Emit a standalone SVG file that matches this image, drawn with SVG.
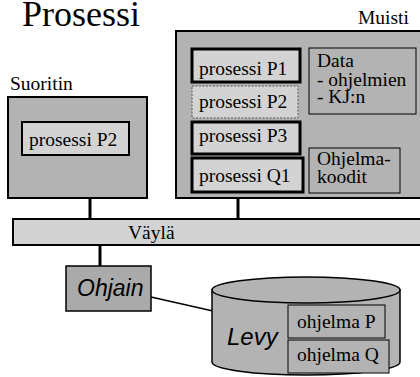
<svg xmlns="http://www.w3.org/2000/svg" width="420" height="377" viewBox="0 0 420 377">
<style>
.serif{font-family:"Liberation Serif","Times New Roman",serif;fill:#000}
.lbl{font-size:19.5px}
.sans{font-family:"Liberation Sans",Arial,sans-serif;font-style:italic;fill:#000}
.outer{fill:#b3b3b3;stroke:#000;stroke-width:2}
.inner{fill:#d3d3d3;stroke:#000;stroke-width:3}
.thin{fill:#b3b3b3;stroke:#000;stroke-width:1}
.conn{stroke:#000;stroke-width:3;fill:none}
</style>
<rect width="420" height="377" fill="#fff"/>
<text class="serif" x="22" y="26" font-size="36">Prosessi</text>
<g id="muisti">
<text class="serif lbl" x="358" y="24">Muisti</text>
<rect class="outer" x="176" y="31" width="250" height="167"/>
</g>
<g id="p1"><rect class="inner" x="192" y="49" width="108" height="33"/><text class="serif lbl" x="199" y="75">prosessi P1</text></g>
<g id="p2m"><rect x="192" y="86" width="106" height="32" fill="#d3d3d3" stroke="#555" stroke-width="1" stroke-dasharray="2,1.5"/><text class="serif lbl" x="199" y="108">prosessi P2</text></g>
<g id="p3"><rect class="inner" x="192" y="122" width="108" height="32"/><text class="serif lbl" x="199" y="142">prosessi P3</text></g>
<g id="q1"><rect class="inner" x="192" y="158" width="111" height="34"/><text class="serif lbl" x="199" y="182">prosessi Q1</text></g>
<g id="data"><rect class="thin" x="309" y="48" width="107" height="66"/>
<text class="serif lbl" x="317" y="67">Data</text><text class="serif lbl" x="317" y="86">- ohjelmien</text><text class="serif lbl" x="317" y="103">- KJ:n</text></g>
<g id="koodit"><rect class="thin" x="309" y="148" width="91" height="45"/>
<text class="serif lbl" x="317" y="165">Ohjelma-</text><text class="serif lbl" x="317" y="183">koodit</text></g>
<g id="suoritin">
<text class="serif lbl" x="10" y="90">Suoritin</text>
<rect class="outer" x="8" y="97" width="139" height="101"/>
</g>
<g id="p2s"><rect fill="#d3d3d3" stroke="#000" stroke-width="2" x="22" y="122" width="107" height="33"/><text class="serif lbl" x="29" y="146">prosessi P2</text></g>
<g id="connectors">
<line class="conn" x1="90" y1="199" x2="90" y2="219"/>
<line class="conn" x1="238" y1="199" x2="238" y2="219"/>
<line class="conn" x1="100" y1="245" x2="100" y2="266"/>
<line stroke="#000" stroke-width="1.5" x1="151" y1="297" x2="213" y2="311"/>
</g>
<g id="vayla"><rect fill="#d3d3d3" stroke="#000" stroke-width="2" x="13" y="219" width="412" height="26"/><text class="serif lbl" x="128" y="239">Väylä</text></g>
<g id="ohjain"><rect fill="#aaaaaa" stroke="#000" stroke-width="1.5" x="66" y="266" width="85" height="45"/><text class="sans" x="77" y="296" font-size="23">Ohjain</text></g>
<g id="levy">
<path d="M212,290 L212,362 A94,13 0 0 0 400,362 L400,290 Z" fill="#b3b3b3" stroke="#000" stroke-width="1.5"/>
<ellipse cx="306" cy="290" rx="94" ry="13" fill="#b3b3b3" stroke="#000" stroke-width="1.5"/>
<text class="sans" x="227" y="345" font-size="24">Levy</text>
</g>
<g id="ohjelmaP"><rect class="thin" stroke-width="2" x="288" y="305" width="97" height="33"/><text class="serif lbl" x="297" y="328">ohjelma P</text></g>
<g id="ohjelmaQ"><rect class="thin" stroke-width="2" x="288" y="340" width="101" height="33"/><text class="serif lbl" x="297" y="361">ohjelma Q</text></g>
</svg>
